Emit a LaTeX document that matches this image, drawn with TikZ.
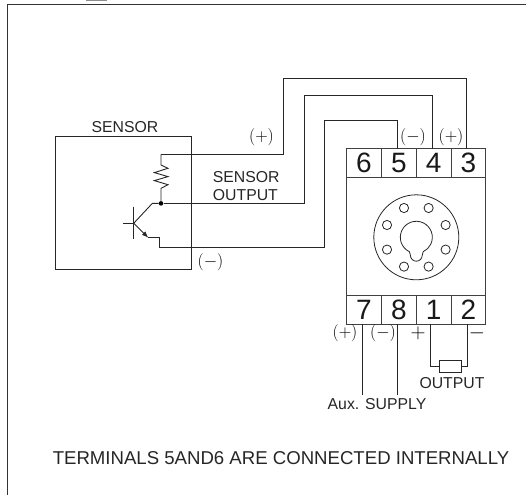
\documentclass[tikz,border=0pt]{standalone}
\usepackage{fontspec}
\setmainfont{Liberation Sans}
\usetikzlibrary{arrows.meta,positioning,fit}

\begin{document}
\begin{tikzpicture}
[x=1pt,y=-1pt,
%
wire/.style={draw=black!85,line width=.9pt,>={Latex[length=6.5pt,width=5pt]}},
term/.style={shape=rectangle,draw=black!75,line width=.9pt,inner sep=0pt,outer sep=0pt,minimum width=34.7pt,minimum height=29pt,text=black!90,font=\fontsize{28}{30}\selectfont},
hole/.style={shape=circle,draw=black!85,line width=.8pt,inner sep=0pt,minimum size=9.2pt},
txt/.style={inner sep=0pt,text=black!85,font=\fontsize{15.8}{18}\selectfont},
sign/.style={inner sep=0pt,text=black,font=\fontsize{17.28}{20}\selectfont},
bigsign/.style={inner sep=0pt,text=black,font=\fontsize{20.74}{24}\selectfont},
dot/.style={shape=circle,fill=black,inner sep=0pt,minimum size=4.6pt}]
\useasboundingbox (0,0) rectangle (526,495);
%
% frame
\fill[black!45] (86,0) rectangle (107,1);
\draw[black!80,line width=1pt] (7.5,495) -- (7.5,4.5) -- (526,4.5);
%
% sensor
\node (sensor) [draw=black!85,line width=.9pt,minimum width=136.3pt,minimum height=133pt,outer sep=0pt] at (123.2,202.8) {};
\node (sensorname) [txt] at (125,126.7) {SENSOR};
%
% terminals
\foreach \n/\x in {6/364,5/398.8,4/433.6,3/468.3}
   \node (T\n) [term] at (\x,163) {\n};
\foreach \n/\x in {7/364,8/398.8,1/433.6,2/468.3}
   \node (T\n) [term] at (\x,309.8) {\n};
\node (relay) [fit=(T6)(T2),draw=black!75,line width=.9pt,inner sep=0pt,outer sep=0pt] {};
%
% socket
\node (socket) [shape=circle,draw=black!85,line width=.8pt,inner sep=0pt,minimum size=85pt] at (416.3,237.3) {};
\foreach \dx/\dy in {-12.3/-29.3,12.3/-29.3,-29.3/-12.3,29.3/-12.3,-29.3/12.3,29.3/12.3,-12.3/29.3,12.3/29.3}
   \node [hole] at (416.3+\dx,237.3+\dy) {};
\draw[wire,line width=.8pt] (409.4,251.7) arc[start angle=115.6,end angle=424.4,radius=16]
   .. controls (422.4,252.6) and (422.2,253.6) .. (422.2,255.3)
   arc[start angle=0,end angle=180,radius=5.9]
   .. controls (410.4,253.6) and (410.2,252.6) .. cycle;
%
% transistor
\coordinate (Qb) at (133.7,223.3);
\coordinate (Qc) at (152.3,203.4);
\coordinate (Qe) at (148.3,237.7);
\coordinate (Rtop) at (161,154.3);
\coordinate (Rin) at (161,165);
\coordinate (Rout) at (161,188.3);
\coordinate (Eout) at (159.3,247.3);
\node (J) [dot] at (161,203.4) {};
\draw[wire] (133.7,206.7) -- (133.7,239.3);
\draw[wire] (123.3,223.3) -- (Qb);
\draw[wire] (Qb) -- (Qc) -- (J);
\draw[wire,->] (Qb) -- (Qe);
\draw[wire] (Qe) -- (159.3,237.7) -- (Eout);
%%
% resistor
\draw[wire] (Rtop) -- (Rin) -- (168,168.3) -- (154.3,172.6) -- (168,176.6) -- (154.3,180.6) -- (168,184.7) -- (Rout) -- (J);
%%
% wires to the terminals
\draw[wire] (Rtop) -| (283.3,78.7) -| ([xshift=-1.6pt]T3.north);
\draw[wire] (J) -| (304.7,95.7) -| ([xshift=-1.3pt]T4.north);
\draw[wire] (Eout) -| (324,120.7) -| ([xshift=-1.1pt]T5.north);
%%
% supply and output
\coordinate (Aplus) at (362.7,394.7);
\coordinate (Aminus) at (397.7,394.7);
\draw[wire,line width=.8pt] ([xshift=-1.3pt]T7.south) -- (Aplus);
\draw[wire,line width=.8pt] ([xshift=-1.1pt]T8.south) -- (Aminus);
\node (load) [draw=black!85,line width=.9pt,inner sep=0pt,outer sep=0pt,minimum width=22.7pt,minimum height=12.3pt] at (450.3,366.1) {};
\draw[wire] ([xshift=-3.3pt]T1.south) |- (load.west);
\draw[wire] ([xshift=-.6pt]T2.south) |- (load.east);
%
% labels
\node (plusA) [sign] at (261.5,137) {$(+)$};
\node (minusA) [sign] at (210.5,261.7) {$(-)$};
\node (minusB) [sign] at (413,137.3) {$(-)$};
\node (plusB) [sign] at (451,137.3) {$(+)$};
\node (plusC) [sign] at (345,333.3) {$(+)$};
\node (minusC) [sign] at (383,333.3) {$(-)$};
\node (plusD) [bigsign,anchor=base] at (418,338.5) {$\smash{+}$};
\node (minusD) [bigsign,anchor=base] at (477,338.5) {$\smash{-}$};
\node (outname) [txt,align=left,anchor=west] at (212.7,186.2) {SENSOR\\OUTPUT};
\node (loadname) [txt] at (452,383.3) {OUTPUT};
\node (auxname) [txt] at (377,404.3) {Aux. SUPPLY};
\node (note) [txt,font=\fontsize{18.6}{20}\selectfont] at (281,458.3) {TERMINALS 5AND6 ARE CONNECTED INTERNALLY};
\end{tikzpicture}
\end{document}
